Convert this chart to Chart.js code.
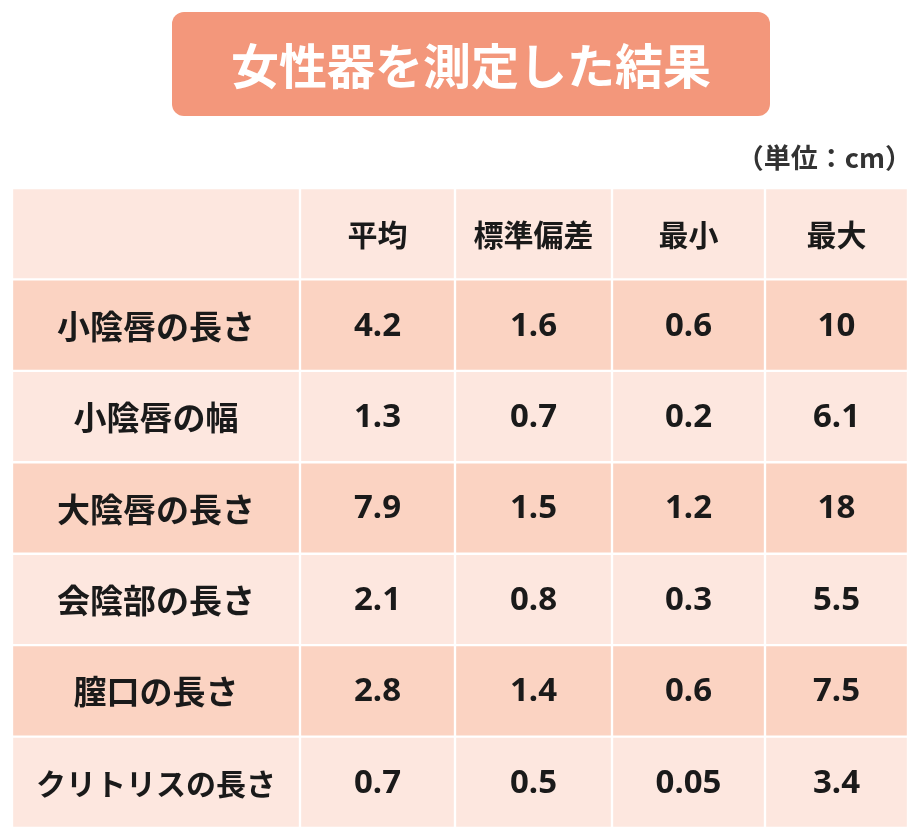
<!DOCTYPE html>
<html><head><meta charset="utf-8">
<script src="https://cdn.jsdelivr.net/npm/chart.js@4"></script>
<style>html,body{margin:0;background:#fff}#wrap{width:920px;height:837px}</style>
</head><body><div id="wrap"><canvas id="c"></canvas></div>
<script>
const titleText = '女性器を測定した結果';
const unitText = '（単位：cm）';
const columns = ['', '平均', '標準偏差', '最小', '最大'];
const rowLabels = ['小陰唇の長さ', '小陰唇の幅', '大陰唇の長さ', '会陰部の長さ', '膣口の長さ', 'クリトリスの長さ'];
const meanValues = ['4.2', '1.3', '7.9', '2.1', '2.8', '0.7'];
const sdValues = ['1.6', '0.7', '1.5', '0.8', '1.4', '0.5'];
const minValues = ['0.6', '0.2', '1.2', '0.3', '0.6', '0.05'];
const maxValues = ['10', '6.1', '18', '5.5', '7.5', '3.4'];
// column widths in table units
const colEdges = [0, 288, 443, 600, 753, 896];

const rows = ['header', ...rowLabels];
const cellText = (r, c) => {
  if (r === 0) return columns[c];
  const i = r - 1;
  return [rowLabels, meanValues, sdValues, minValues, maxValues][c][i];
};
const rowColor = r => (r % 2 === 1 ? '#fbd3c2' : '#fde7df');

const datasets = columns.map((col, c) => ({
  data: rows.map(() => [colEdges[c], colEdges[c + 1]]),
  backgroundColor: rows.map((_, r) => rowColor(r)),
  borderColor: '#ffffff',
  borderWidth: 1.5,
  borderSkipped: false,
  barPercentage: 1,
  categoryPercentage: 1,
  grouped: false
}));

const textPlugin = {
  id: 'tableText',
  afterDatasetsDraw(chart) {
    const { ctx, scales: { x, y } } = chart;
    ctx.save();
    ctx.textAlign = 'center';
    ctx.textBaseline = 'middle';
    ctx.fillStyle = '#1a1a1a';
    rows.forEach((_, r) => {
      columns.forEach((_, c) => {
        const t = cellText(r, c);
        if (!t) return;
        const cx = (x.getPixelForValue(colEdges[c]) + x.getPixelForValue(colEdges[c + 1])) / 2;
        const cy = y.getPixelForValue(r);
        if (r === 0) ctx.font = 'bold 30px "Noto Sans CJK JP"';
        else if (c === 0) ctx.font = t.length > 7 ? 'bold 30px "Noto Sans CJK JP"' : 'bold 33px "Noto Sans CJK JP"';
        else ctx.font = 'bold 33px "Noto Sans", "Noto Sans CJK JP"';
        ctx.fillText(t, cx, cy + 1);
      });
    });
    // title box
    const bx = 172, by = 12, bw = 598, bh = 104, rad = 12;
    ctx.fillStyle = '#f3977b';
    ctx.beginPath();
    ctx.roundRect(bx, by, bw, bh, rad);
    ctx.fill();
    ctx.fillStyle = '#fff';
    ctx.font = 'bold 48px "Noto Sans CJK JP"';
    ctx.fillText(titleText, bx + bw / 2, by + bh / 2 + 2);
    ctx.fillStyle = '#333';
    ctx.textAlign = 'right';
    ctx.font = 'bold 27px "Noto Sans CJK JP"';
    ctx.fillText(unitText, 912, 158);
    ctx.restore();
  }
};

new Chart(document.getElementById('c'), {
  type: 'bar',
  data: { labels: rows, datasets },
  options: {
    indexAxis: 'y',
    responsive: true,
    maintainAspectRatio: false,
    animation: false,
    layout: { padding: { left: 12, right: 12, top: 188, bottom: 9 } },
    scales: {
      x: { type: 'linear', min: 0, max: 896, display: false },
      y: { type: 'category', display: false, offset: true }
    },
    plugins: { legend: { display: false }, tooltip: { enabled: false } }
  },
  plugins: [textPlugin]
});
</script>
</body></html>
